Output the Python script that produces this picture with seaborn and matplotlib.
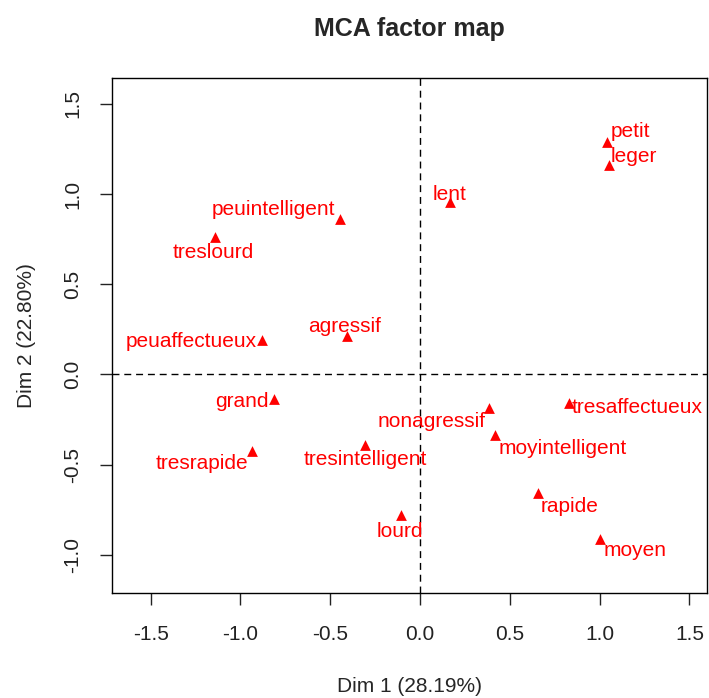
import matplotlib
matplotlib.use("Agg")
import matplotlib.pyplot as plt
import seaborn as sns
import pandas as pd

# MCA category coordinates
categories = ["peuintelligent", "treslourd", "peuaffectueux", "agressif", "lent",
              "petit", "leger", "grand", "tresrapide", "tresintelligent",
              "nonagressif", "moyintelligent", "tresaffectueux", "rapide",
              "lourd", "moyen"]
dim1 = [-0.445, -1.141, -0.881, -0.408, 0.167, 1.043, 1.051, -0.813, -0.934,
        -0.306, 0.386, 0.419, 0.828, 0.659, -0.106, 1.000]
dim2 = [0.862, 0.763, 0.190, 0.212, 0.957, 1.290, 1.158, -0.137, -0.425,
        -0.392, -0.189, -0.336, -0.161, -0.660, -0.780, -0.913]

# label placement (alignment, dx, dy in pixels)
label_pos = [("right", -5, 9), ("center", -2, -16), ("right", -5, -1),
             ("center", -2, 10), ("center", 0, 7), ("left", 3, 10),
             ("left", 2, 9), ("right", -5, -2), ("right", -4, -13),
             ("center", 0, -14), ("right", -4, -13), ("left", 3, -14),
             ("left", 3, -4), ("left", 2, -13), ("center", -1, -16),
             ("left", 4, -11)]

df = pd.DataFrame({"cat": categories, "Dim1": dim1, "Dim2": dim2})

sns.set_style("white")
plt.rcParams["font.family"] = ["Liberation Sans", "DejaVu Sans"]

fig = plt.figure(figsize=(7.09, 6.98), dpi=100)
ax = fig.add_axes([0.1584, 0.150, 0.8384, 0.7378])

ax.axhline(0, color="black", lw=1.0, ls=(0, (5, 3.5)), zorder=1)
ax.axvline(0, color="black", lw=1.0, ls=(0, (5, 3.5)), zorder=1)

sns.scatterplot(data=df, x="Dim1", y="Dim2", marker="^", color="red",
                s=60, edgecolor="red", linewidth=0, ax=ax, zorder=3)

for name, x, y, (ha, dx, dy) in zip(categories, dim1, dim2, label_pos):
    ax.annotate(name, (x, y), xytext=(dx, dy), textcoords="offset pixels",
                ha=ha, va="center", color="red", fontsize=15)

ax.set_xlim(-1.713, 1.596)
ax.set_ylim(-1.214, 1.641)
ax.set_xticks([-1.5, -1.0, -0.5, 0.0, 0.5, 1.0, 1.5])
ax.set_yticks([-1.0, -0.5, 0.0, 0.5, 1.0, 1.5])
ax.set_xticklabels(["-1.5", "-1.0", "-0.5", "0.0", "0.5", "1.0", "1.5"])
ax.set_yticklabels(["-1.0", "-0.5", "0.0", "0.5", "1.0", "1.5"],
                   rotation=90, va="center")
ax.tick_params(axis="both", direction="out", length=8.5, width=1.0,
               labelsize=15, colors="#222222", bottom=True, left=True)
ax.tick_params(axis="x", pad=14.5)
ax.tick_params(axis="y", pad=13)
for sp in ax.spines.values():
    sp.set_color("black")
    sp.set_linewidth(1.0)

ax.set_xlabel("Dim 1 (28.19%)", fontsize=15, labelpad=23.5)
ax.set_ylabel("Dim 2 (22.80%)", fontsize=15, labelpad=19.5)
ax.set_title("MCA factor map", fontsize=18, fontweight="bold", pad=30.5)

fig.savefig("out.png", dpi=100)
